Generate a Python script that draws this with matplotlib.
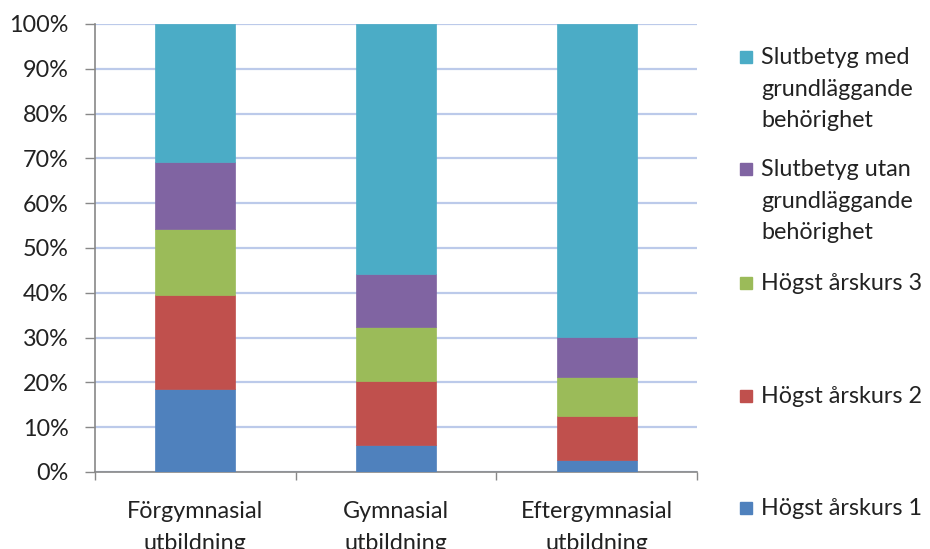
import numpy as np
import matplotlib
matplotlib.use("Agg")
import matplotlib.pyplot as plt
from matplotlib.patches import Rectangle
from matplotlib.ticker import PercentFormatter

# ---------------------------------------------------------------------------
# Data (shares per education level)
# ---------------------------------------------------------------------------
categories = ["Förgymnasial\nutbildning", "Gymnasial\nutbildning", "Eftergymnasial\nutbildning"]

hogst_ak1   = [18.5, 6.1, 2.7]
hogst_ak2   = [20.9, 14.3, 9.7]
hogst_ak3   = [14.8, 12.0, 8.9]
utan_behor  = [14.9, 11.8, 8.8]
med_behor   = [30.9, 55.8, 69.9]

series_labels = [
    "Högst årskurs 1",
    "Högst årskurs 2",
    "Högst årskurs 3",
    "Slutbetyg utan\ngrundläggande\nbehörighet",
    "Slutbetyg med\ngrundläggande\nbehörighet",
]
series_values = [hogst_ak1, hogst_ak2, hogst_ak3, utan_behor, med_behor]
series_colors = ["#4f81bd", "#c0504d", "#9bbb59", "#8064a2", "#4bacc6"]

# legend entry vertical positions (pixels from top), Excel-style spread
legend_y_px = [508, 396, 283, 169, 57]

plt.rcParams["font.family"] = ["Lato", "DejaVu Sans"]
FS = 16.8
TXT = "#222222"
LS = 1.62

W, H = 930, 549
fig = plt.figure(figsize=(W / 100, H / 100), dpi=100)
ax = fig.add_axes([95 / W, 1 - 472 / H, (697 - 95) / W, (472 - 24) / H])

x = np.arange(len(categories))
bottom = np.zeros(len(categories))
for vals, col in zip(series_values, series_colors):
    v = np.array(vals) / 100.0
    ax.bar(x, v, width=0.4, bottom=bottom, color=col, zorder=3,
           edgecolor=col, linewidth=0.5)
    bottom += v

ax.set_xlim(-0.5, len(categories) - 0.5)
ax.set_ylim(0, 1)
ax.set_yticks(np.linspace(0, 1, 11))
ax.yaxis.set_major_formatter(PercentFormatter(1.0, decimals=0))
ax.grid(axis="y", color="#bccaea", linewidth=1.6, zorder=0)

# category boundaries as major ticks, labels on minor ticks
ax.set_xticks(np.arange(-0.5, len(categories) + 0.5, 1.0))
ax.set_xticklabels([])
ax.set_xticks(x, minor=True)
ax.set_xticklabels(categories, minor=True, fontsize=FS, color=TXT,
                   linespacing=LS)
ax.tick_params(axis="x", which="major", length=6, color="#888888", width=1)
ax.tick_params(axis="x", which="minor", length=0, pad=21)
ax.tick_params(axis="y", length=7, color="#888888", width=1, pad=12,
               labelsize=FS, labelcolor=TXT)

for side in ["top", "right"]:
    ax.spines[side].set_visible(False)
for side in ["left", "bottom"]:
    ax.spines[side].set_color("#888888")
    ax.spines[side].set_linewidth(1.2)

# manual legend
for lab, col, ypx in zip(series_labels, series_colors, legend_y_px):
    fig.add_artist(Rectangle((740 / W, 1 - (ypx + 6) / H), 12 / W, 12 / H,
                             transform=fig.transFigure, color=col))
    fig.text(761 / W, 1 - (ypx - 10) / H, lab, fontsize=FS, color=TXT,
             va="top", ha="left", linespacing=LS)

fig.savefig("out.png", dpi=100)
